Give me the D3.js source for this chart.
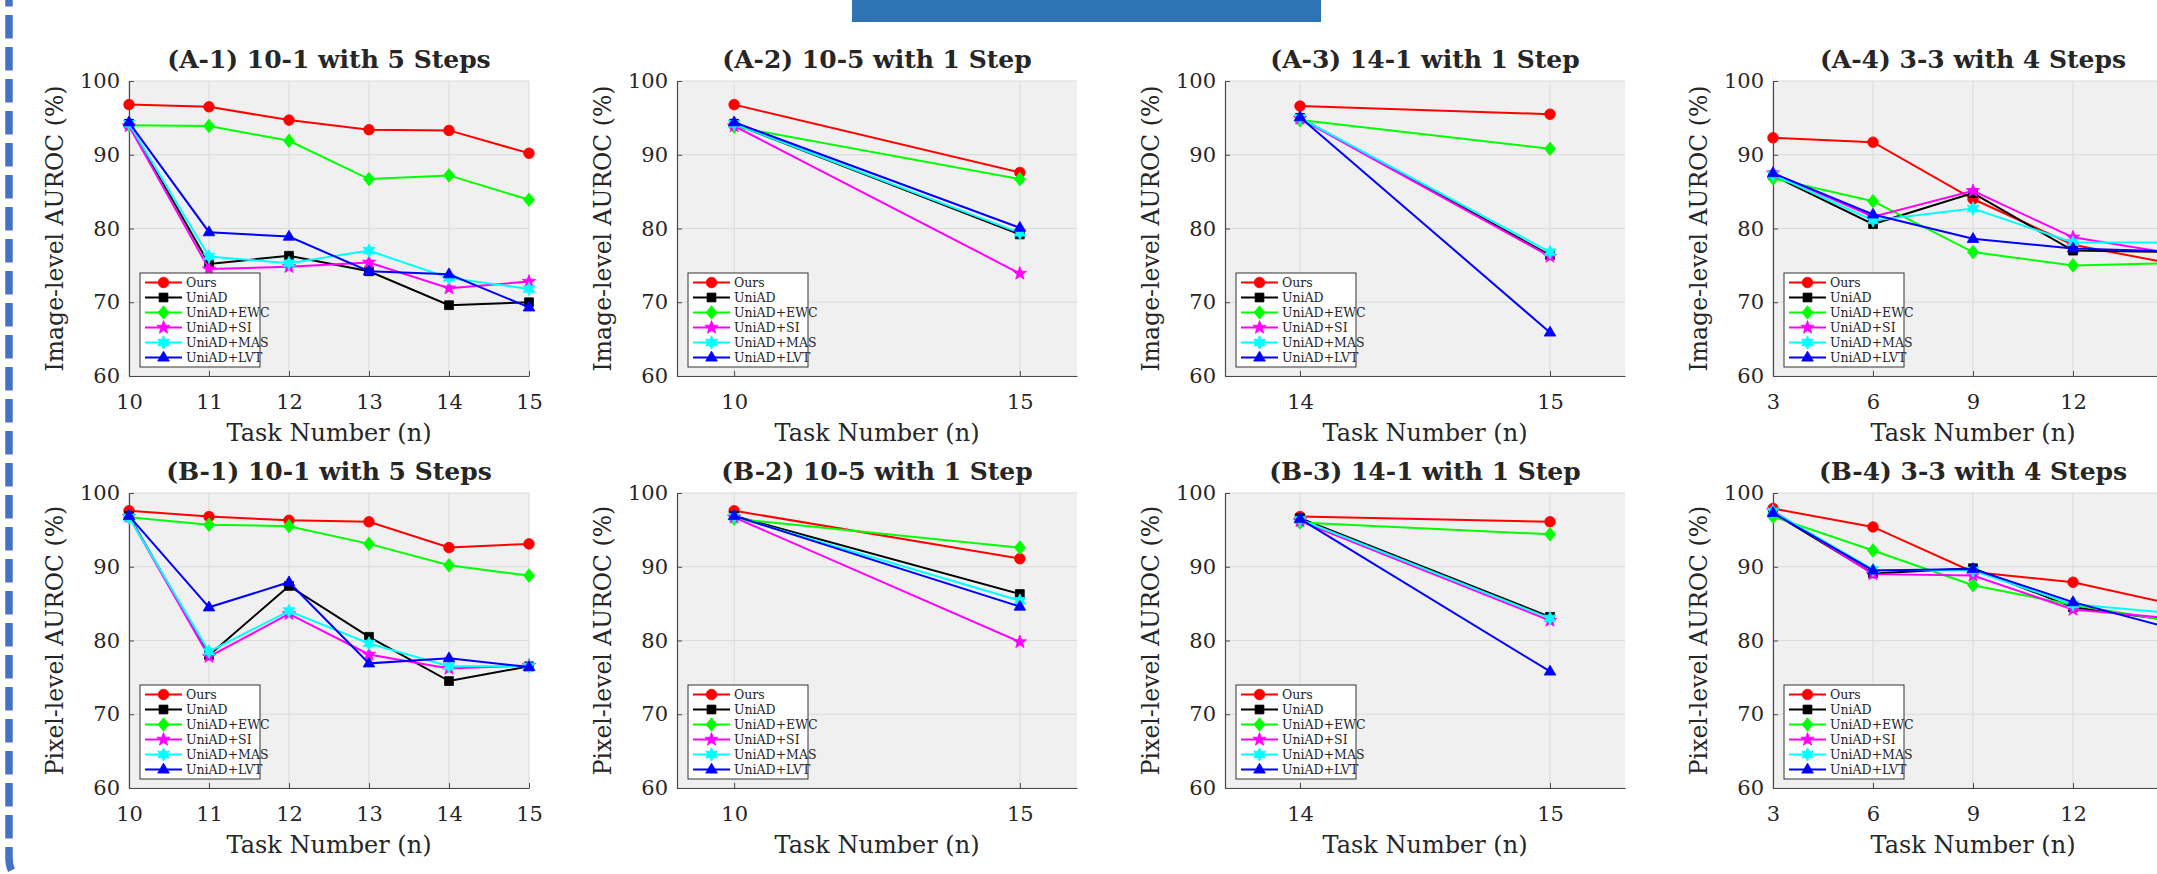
<!DOCTYPE html>
<html>
<head>
<meta charset="utf-8">
<script src="https://cdn.jsdelivr.net/npm/d3@7"></script>
<style>
	body { margin: 0; background: #fff; overflow: hidden; }
	svg { display: block; }
	text { font-family: "DejaVu Serif", serif; fill: #262626; }
</style>
</head>
<body>
<svg id="fig" width="2157" height="874"></svg>
<script>
const methods = ["Ours", "UniAD", "UniAD+EWC", "UniAD+SI", "UniAD+MAS", "UniAD+LVT"];
const colors = ["#ff0000", "#000000", "#00ff00", "#ff00ff", "#00ffff", "#0000ff"];
const yTicks = [60, 70, 80, 90, 100];

// task numbers per setting
const tasks101 = [10, 11, 12, 13, 14, 15];
const tasks105 = [10, 15];
const tasks141 = [14, 15];
const tasks33 = [3, 6, 9, 12, 15];

// image-level AUROC, one row per method
const imageA1 = [
	[96.8, 96.5, 94.7, 93.4, 93.3, 90.2],
	[94.2, 75.2, 76.3, 74.2, 69.6, 70.0],
	[94.0, 93.9, 91.9, 86.7, 87.2, 83.9],
	[93.9, 74.5, 74.8, 75.4, 71.9, 72.8],
	[94.2, 76.2, 75.3, 77.0, 73.3, 71.8],
	[94.4, 79.5, 78.9, 74.2, 73.8, 69.3]
];
const imageA2 = [[96.8, 87.6], [94.2, 79.2], [93.8, 86.7], [93.9, 73.9], [94.2, 79.4], [94.4, 80.1]];
const imageA3 = [[96.6, 95.5], [95.0, 76.4], [94.7, 90.8], [94.9, 76.2], [95.0, 76.8], [95.1, 65.9]];
const imageA4 = [
	[92.3, 91.7, 84.0, 77.8, 75.2],
	[87.2, 80.6, 84.8, 77.0, 76.8],
	[86.8, 83.7, 76.8, 75.0, 75.3],
	[87.5, 81.6, 85.1, 78.8, 76.6],
	[87.3, 81.1, 82.7, 78.1, 78.1],
	[87.5, 81.9, 78.6, 77.3, 76.9]
];

// pixel-level AUROC
const pixelB1 = [
	[97.6, 96.8, 96.3, 96.1, 92.6, 93.1],
	[96.9, 78.0, 87.4, 80.5, 74.5, 76.5],
	[96.7, 95.7, 95.5, 93.1, 90.2, 88.8],
	[96.8, 77.8, 83.6, 78.1, 76.2, 76.6],
	[96.7, 78.5, 84.0, 79.6, 76.5, 76.5],
	[96.9, 84.5, 87.9, 76.9, 77.6, 76.4]
];
const pixelB2 = [[97.6, 91.1], [96.9, 86.3], [96.5, 92.6], [96.7, 79.8], [96.8, 85.4], [96.9, 84.6]];
const pixelB3 = [[96.8, 96.1], [96.6, 83.2], [96.0, 94.4], [96.2, 82.7], [96.4, 83.0], [96.5, 75.8]];
const pixelB4 = [
	[97.9, 95.4, 89.3, 87.9, 84.9],
	[97.3, 89.1, 89.8, 84.5, 82.7],
	[96.8, 92.2, 87.5, 84.8, 82.6],
	[97.6, 89.0, 88.8, 84.2, 83.0],
	[97.5, 89.6, 89.5, 84.9, 83.7],
	[97.3, 89.5, 89.7, 85.2, 81.6]
];

const panels = [
	{title: "(A-1) 10-1 with 5 Steps", ylab: "Image-level AUROC (%)", tasks: tasks101, domain: [10, 15], data: imageA1, col: 0, row: 0},
	{title: "(A-2) 10-5 with 1 Step", ylab: "Image-level AUROC (%)", tasks: tasks105, domain: [9, 16], data: imageA2, col: 1, row: 0},
	{title: "(A-3) 14-1 with 1 Step", ylab: "Image-level AUROC (%)", tasks: tasks141, domain: [13.7, 15.3], data: imageA3, col: 2, row: 0},
	{title: "(A-4) 3-3 with 4 Steps", ylab: "Image-level AUROC (%)", tasks: tasks33, domain: [3, 15], data: imageA4, col: 3, row: 0},
	{title: "(B-1) 10-1 with 5 Steps", ylab: "Pixel-level AUROC (%)", tasks: tasks101, domain: [10, 15], data: pixelB1, col: 0, row: 1},
	{title: "(B-2) 10-5 with 1 Step", ylab: "Pixel-level AUROC (%)", tasks: tasks105, domain: [9, 16], data: pixelB2, col: 1, row: 1},
	{title: "(B-3) 14-1 with 1 Step", ylab: "Pixel-level AUROC (%)", tasks: tasks141, domain: [13.7, 15.3], data: pixelB3, col: 2, row: 1},
	{title: "(B-4) 3-3 with 4 Steps", ylab: "Pixel-level AUROC (%)", tasks: tasks33, domain: [3, 15], data: pixelB4, col: 3, row: 1}
];

// matlab-ish markers
function star(n, R, r) {
	return {
		draw(ctx) {
			for (let i = 0; i < 2 * n; i++) {
				let a = Math.PI * i / n - Math.PI / 2;
				let rad = i % 2 ? r : R;
				if (i == 0) ctx.moveTo(rad * Math.cos(a), rad * Math.sin(a));
				else ctx.lineTo(rad * Math.cos(a), rad * Math.sin(a));
			}
			ctx.closePath();
		}
	};
}
const diamond = {draw(ctx) { ctx.moveTo(0, -6.8); ctx.lineTo(5.5, 0); ctx.lineTo(0, 6.8); ctx.lineTo(-5.5, 0); ctx.closePath(); }};
const triangle = {draw(ctx) { ctx.moveTo(0, -6.3); ctx.lineTo(5.8, 3.6); ctx.lineTo(-5.8, 3.6); ctx.closePath(); }};
const symbols = [
	d3.symbol(d3.symbolCircle, 88),
	d3.symbol(d3.symbolSquare, 78),
	d3.symbol(diamond),
	d3.symbol(star(5, 7, 2.9)),
	d3.symbol(star(6, 6.8, 3.6)),
	d3.symbol(triangle)
];

const svg = d3.select("#fig");
const pageW = +svg.attr("width");

// slide decorations
svg.append("rect")
	.attr("x", 852).attr("y", 0)
	.attr("width", 469).attr("height", 22)
	.attr("fill", "#2e74b5");
svg.append("path")
	.attr("d", "M9,0 L9,858 Q9,868 14,874")
	.attr("fill", "none")
	.attr("stroke", "#4472c4")
	.attr("stroke-width", 7.5)
	.attr("stroke-dasharray", "23.5 8.5")
	.attr("stroke-dashoffset", 17);

const W = 400, H = 295;

panels.forEach(p => {
	let left = 129 + p.col * 548;
	let top = p.row ? 493 : 81;
	let g = svg.append("g").attr("transform", "translate(" + left + "," + top + ")");

	let x = d3.scaleLinear().domain(p.domain).range([0, W]);
	let y = d3.scaleLinear().domain([60, 100]).range([H, 0]);
	// the last panel runs off the slide, so only label what is on it
	let shown = p.tasks.filter(t => left + x(t) < pageW - 10);

	g.append("rect").attr("width", W).attr("height", H).attr("fill", "#f0f0f0");

	g.selectAll(".gy").data(yTicks).enter().append("line")
		.attr("x1", 0).attr("x2", W)
		.attr("y1", d => y(d)).attr("y2", d => y(d))
		.attr("stroke", "#dadada").attr("stroke-width", 1);
	g.selectAll(".gx").data(p.tasks).enter().append("line")
		.attr("x1", d => x(d)).attr("x2", d => x(d))
		.attr("y1", 0).attr("y2", H)
		.attr("stroke", "#dadada").attr("stroke-width", 1);

	let yAxis = g.append("g")
		.call(d3.axisLeft(y).tickValues(yTicks).tickSizeInner(-5).tickSizeOuter(0).tickPadding(9));
	let xAxis = g.append("g")
		.attr("transform", "translate(0," + H + ")")
		.call(d3.axisBottom(x).tickValues(shown).tickFormat(d3.format("d")).tickSizeInner(-5).tickSizeOuter(0).tickPadding(18));
	[yAxis, xAxis].forEach(a => {
		a.select(".domain").attr("stroke", "#4a4a4a").attr("stroke-width", 1.2);
		a.selectAll(".tick line").attr("stroke", "#4a4a4a");
		a.selectAll("text").attr("font-size", 21).attr("font-family", "DejaVu Serif").attr("fill", "#262626");
	});

	// series
	let line = d3.line().x((d, i) => x(p.tasks[i])).y(d => y(d));
	p.data.forEach((vals, k) => {
		g.append("path")
			.attr("d", line(vals))
			.attr("fill", "none")
			.attr("stroke", colors[k])
			.attr("stroke-width", 2);
		g.selectAll(".m" + k).data(vals).enter().append("path")
			.attr("transform", (d, i) => "translate(" + x(p.tasks[i]) + "," + y(d) + ")")
			.attr("d", symbols[k])
			.attr("fill", colors[k])
			.attr("stroke", colors[k])
			.attr("stroke-width", 0.8);
	});

	// legend
	let lg = g.append("g").attr("transform", "translate(11," + (H - 9 - 94) + ")");
	lg.append("rect").attr("width", 120).attr("height", 94)
		.attr("fill", "#fff").attr("stroke", "#333").attr("stroke-width", 1);
	methods.forEach((m, k) => {
		let ry = 9.5 + k * 15;
		lg.append("line").attr("x1", 5).attr("x2", 42).attr("y1", ry).attr("y2", ry)
			.attr("stroke", colors[k]).attr("stroke-width", 2);
		lg.append("path").attr("transform", "translate(23.5," + ry + ")")
			.attr("d", symbols[k]).attr("fill", colors[k]).attr("stroke", colors[k]).attr("stroke-width", 0.8);
		lg.append("text").attr("x", 46).attr("y", ry).attr("dy", "0.35em")
			.attr("font-family", "Liberation Serif").attr("font-size", 12.5)
			.attr("fill", "#000")
			.text(m);
	});

	// titles
	g.append("text")
		.attr("x", W / 2).attr("y", -13)
		.attr("text-anchor", "middle")
		.attr("font-size", 25).attr("font-weight", "bold").attr("fill", "#000")
		.text(p.title);
	g.append("text")
		.attr("transform", "translate(-74," + H / 2 + ") rotate(-90)")
		.attr("text-anchor", "middle").attr("dy", "0.35em")
		.attr("font-size", 23.5)
		.text(p.ylab);
	g.append("text")
		.attr("x", W / 2).attr("y", H + 57).attr("dy", "0.35em")
		.attr("text-anchor", "middle")
		.attr("font-size", 24)
		.text("Task Number (n)");
});
</script>
</body>
</html>
